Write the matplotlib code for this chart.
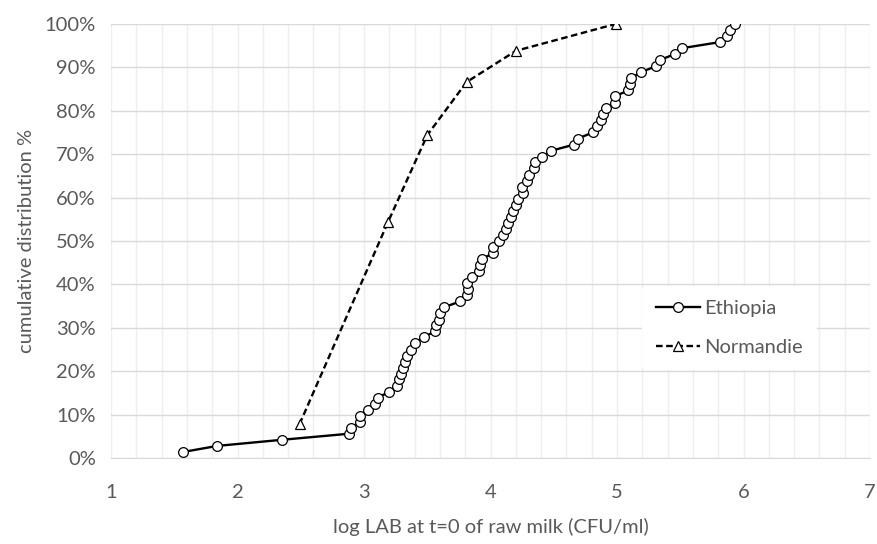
import matplotlib.pyplot as plt
from matplotlib.ticker import MultipleLocator, FuncFormatter

# Ethiopia: log LAB values and cumulative percentages
eth_x = [1.57, 1.84, 2.35, 2.88, 2.90, 2.97, 2.97, 3.03, 3.09, 3.11,
         3.20, 3.26, 3.28, 3.29, 3.31, 3.32, 3.34, 3.37, 3.40, 3.47,
         3.56, 3.57, 3.59, 3.60, 3.63, 3.76, 3.81, 3.82, 3.81, 3.85,
         3.91, 3.92, 3.93, 4.02, 4.02, 4.07, 4.10, 4.12, 4.14, 4.16,
         4.18, 4.20, 4.22, 4.26, 4.25, 4.29, 4.30, 4.34, 4.35, 4.41,
         4.48, 4.66, 4.69, 4.81, 4.84, 4.87, 4.89, 4.91, 4.98, 4.98,
         5.09, 5.10, 5.11, 5.19, 5.31, 5.34, 5.46, 5.51, 5.81, 5.87,
         5.89, 5.93]
eth_y = [1.4, 2.8, 4.2, 5.6, 6.9, 8.3, 9.7, 11.1, 12.5, 13.9,
         15.3, 16.7, 18.1, 19.4, 20.8, 22.2, 23.6, 25.0, 26.4, 27.8,
         29.2, 30.6, 31.9, 33.3, 34.7, 36.1, 37.5, 38.9, 40.3, 41.7,
         43.1, 44.4, 45.8, 47.2, 48.6, 50.0, 51.4, 52.8, 54.2, 55.6,
         56.9, 58.3, 59.7, 61.1, 62.5, 63.9, 65.3, 66.7, 68.1, 69.4,
         70.8, 72.2, 73.6, 75.0, 76.4, 77.8, 79.2, 80.6, 81.9, 83.3,
         84.7, 86.1, 87.5, 88.9, 90.3, 91.7, 93.1, 94.4, 95.8, 97.2,
         98.6, 100.0]

# Normandie
nor_x = [2.49, 3.19, 3.50, 3.81, 4.20, 4.99]
nor_y = [7.8, 54.4, 74.4, 86.6, 93.8, 100.0]

plt.rcParams['font.family'] = ['Lato', 'DejaVu Sans']
grey = '#595959'
fs = 14.5

fig = plt.figure(figsize=(8.77, 5.44), dpi=100)
ax = fig.add_axes([0.1266, 0.158, 0.8655, 0.798])

ax.plot(eth_x, eth_y, color='black', lw=1.7, marker='o', ms=7,
        mfc='white', mec='black', mew=0.9, label='Ethiopia', zorder=3)
ax.plot(nor_x, nor_y, color='black', lw=1.7, ls=(0, (2.8, 1.5)), marker='^', ms=7.5,
        mfc='white', mec='black', mew=0.9, label='Normandie', zorder=3)

ax.set_xlim(1, 7)
ax.set_ylim(0, 100)
ax.xaxis.set_major_locator(MultipleLocator(1))
ax.xaxis.set_minor_locator(MultipleLocator(0.2))
ax.yaxis.set_major_locator(MultipleLocator(10))
ax.yaxis.set_major_formatter(FuncFormatter(lambda v, p: f'{v:.0f}%'))

ax.grid(which='major', axis='y', color='#d9d9d9', lw=1.0)
ax.grid(which='minor', axis='x', color='#eeeeee', lw=1.0)
ax.grid(which='major', axis='x', color='#eeeeee', lw=1.0)
ax.set_axisbelow(True)

for s in ['top', 'right', 'left']:
    ax.spines[s].set_visible(False)
ax.spines['bottom'].set_color('#d9d9d9')

ax.tick_params(which='both', length=0, labelsize=fs, labelcolor=grey)
ax.tick_params(axis='x', pad=19)
ax.tick_params(axis='y', pad=11)

ax.set_xlabel('log LAB at t=0 of raw milk (CFU/ml)', fontsize=fs, color=grey, labelpad=12)
ax.set_ylabel('cumulative distribution %', fontsize=fs, color=grey, labelpad=7)

leg = ax.legend(loc='center left', bbox_to_anchor=(0.686, 0.30), frameon=True,
                fontsize=fs, handlelength=2.2, labelspacing=1.1, borderpad=0.7,
                handletextpad=0.2, facecolor='white', edgecolor='none', framealpha=1)
for t in leg.get_texts():
    t.set_color(grey)

fig.savefig('out.png', dpi=100)
